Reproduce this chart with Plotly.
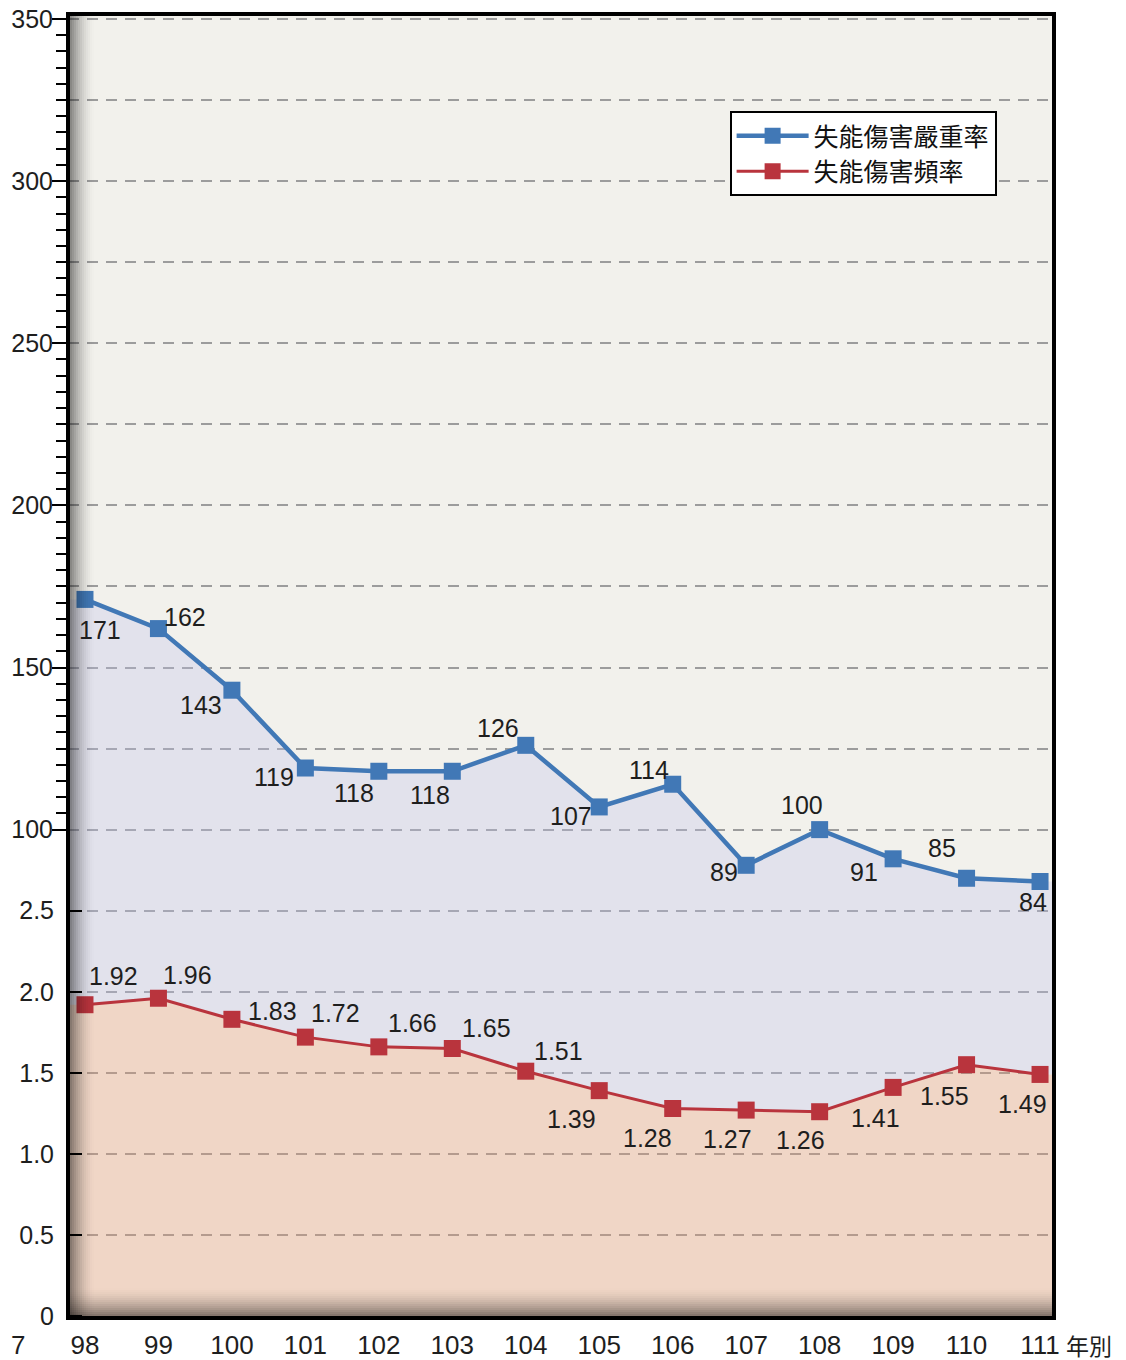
import plotly.graph_objects as go

# ---------------- data ----------------
years = list(range(98, 112))
year_labels = [str(y) for y in years]
severity = [171, 162, 143, 119, 118, 118, 126, 107, 114, 89, 100, 91, 85, 84]          # 失能傷害嚴重率
frequency = [1.92, 1.96, 1.83, 1.72, 1.66, 1.65, 1.51, 1.39, 1.28, 1.27, 1.26, 1.41, 1.55, 1.49]  # 失能傷害頻率
top_ticks = [100, 150, 200, 250, 300, 350]
bottom_ticks = [0, 0.5, 1.0, 1.5, 2.0, 2.5]
name_sev = "失能傷害嚴重率"
name_freq = "失能傷害頻率"
x_title = "年別"

# ---------------- broken-axis scale ----------------
# lower part: 0..2.5 (0.5 per unit); upper part: 75..350 (25 per unit), 75 <-> 2.5
def u_top(v):
    return v / 25.0 + 2.0

def u_bot(v):
    return v * 2.0

sev_u = [u_top(v) for v in severity]
freq_u = [u_bot(v) for v in frequency]

# label offsets (px) relative to the markers
sev_dx = [15, 27, -31, -31, -25, -22, -28, -28, -24, -22, -18, -29, -25, -7]
sev_dy = [-31, 12, -15, -9, -22, -24, 17, -9, 14, -7, 25, -13, 30, -20]
freq_dx = [29, 29, 41, 30, 34, 34, 33, -28, -25, -19, -19, -18, -22, -18]
freq_dy = [29, 23, 8, 24, 24, 20, 20, -28, -30, -29, -28, -31, -31, -30]

BLUE = "#4178b6"
RED = "#b9343d"
BG = "#f2f1ec"
GRID = "#9c9c9c"
TXT = "#1e1e1e"
NUMFONT = "Liberation Sans, Arial, sans-serif"
CJKFONT = "Noto Sans CJK TC, Noto Sans CJK SC, sans-serif"

YR = [-0.0247, 16.0617]
XR = [97.769, 111.19]

# area fills reach the plot edges (value held flat beyond the first/last year)
fill_x = [XR[0]] + years + [XR[1]]
fill_sev = [sev_u[0]] + sev_u + [sev_u[-1]]
fill_freq = [freq_u[0]] + freq_u + [freq_u[-1]]

fig = go.Figure()

# fills (semi-transparent so the dashed grid shows through)
fig.add_trace(go.Scatter(x=fill_x, y=fill_freq, mode="lines", line=dict(width=0, color=RED),
                         fill="tozeroy", fillcolor="rgba(235,151,109,0.30)",
                         showlegend=False, hoverinfo="skip", yaxis="y"))
fig.add_trace(go.Scatter(x=fill_x, y=fill_sev, mode="lines", line=dict(width=0, color=BLUE),
                         fill="tonexty", fillcolor="rgba(189,191,236,0.30)",
                         showlegend=False, hoverinfo="skip", yaxis="y"))

# lines + markers
fig.add_trace(go.Scatter(x=years, y=sev_u, mode="lines+markers", name=name_sev,
                         line=dict(color=BLUE, width=4.5),
                         marker=dict(symbol="square", size=17, color=BLUE),
                         customdata=severity, hovertemplate="%{customdata}<extra></extra>",
                         yaxis="y3"))
fig.add_trace(go.Scatter(x=years, y=freq_u, mode="lines+markers", name=name_freq,
                         line=dict(color=RED, width=3),
                         marker=dict(symbol="square", size=17, color=RED),
                         customdata=frequency, hovertemplate="%{customdata}<extra></extra>",
                         yaxis="y2"))

annotations = []
for x, u, v, dx, dy in zip(years, sev_u, severity, sev_dx, sev_dy):
    annotations.append(dict(x=x, y=u, xref="x", yref="y", text=str(v), showarrow=False,
                            xshift=dx, yshift=dy, font=dict(family=NUMFONT, size=25, color=TXT)))
for x, u, v, dx, dy in zip(years, freq_u, frequency, freq_dx, freq_dy):
    annotations.append(dict(x=x, y=u, xref="x", yref="y", text=f"{v:.2f}", showarrow=False,
                            xshift=dx, yshift=dy, font=dict(family=NUMFONT, size=25, color=TXT)))
annotations.append(dict(x=1.0355, y=-0.0207, xref="paper", yref="paper", text=x_title,
                        showarrow=False, xanchor="center", yanchor="middle",
                        font=dict(family=CJKFONT, size=23, color=TXT)))
annotations.append(dict(x=-0.0507, y=-0.0207, xref="paper", yref="paper", text="7",
                        showarrow=False, xanchor="center", yanchor="middle",
                        font=dict(family=NUMFONT, size=26, color=TXT)))

# shadows along left and bottom edges + black frame
shapes = []
PW, PH = 986.0, 1304.0
n = 13
for i in range(n):
    t = i / n
    op = 0.5 * (1 - t) ** 1.7
    shapes.append(dict(type="rect", xref="paper", yref="paper",
                       x0=i * 2 / PW, x1=(i + 1) * 2 / PW, y0=0, y1=1,
                       fillcolor="black", opacity=op, line=dict(width=0), layer="above"))
nb = 15
for i in range(nb):
    t = i / nb
    op = 0.5 * (1 - t) ** 1.7
    shapes.append(dict(type="rect", xref="paper", yref="paper",
                       x0=0, x1=1, y0=i * 2 / PH, y1=(i + 1) * 2 / PH,
                       fillcolor="black", opacity=op, line=dict(width=0), layer="above"))
shapes.append(dict(type="rect", xref="paper", yref="paper", x0=0, x1=1, y0=0, y1=1,
                   line=dict(color="black", width=4), fillcolor="rgba(0,0,0,0)", layer="above"))

top_u = [u_top(v) for v in top_ticks]
bot_u = [u_bot(v) for v in bottom_ticks]
minor_u = [6 + 0.2 * k for k in range(1, 50) if (k % 10) != 0]
grid_u = list(range(1, 17))

# page body adds an 8px margin, so the figure is 8px smaller and shifted margins
fig.update_layout(
    width=1118, height=1352,
    margin=dict(l=60, r=72, t=6, b=42, autoexpand=False),
    paper_bgcolor="white", plot_bgcolor=BG,
    showlegend=True,
    legend=dict(x=0.671, y=0.9256, xanchor="left", yanchor="top", traceorder="normal",
                bgcolor="white", bordercolor="black", borderwidth=2,
                font=dict(family=CJKFONT, size=25, color="#111"),
                itemwidth=72, tracegroupgap=0),
    xaxis=dict(range=XR, tickvals=years, ticktext=year_labels, ticks="",
               showgrid=False, zeroline=False, showline=False, automargin=False,
               tickfont=dict(family=NUMFONT, size=26, color=TXT), ticklabelstandoff=9,
               ticklabeloverflow="allow"),
    yaxis=dict(range=YR, tickvals=top_u, ticktext=[str(v) for v in top_ticks],
               ticks="outside", ticklen=15, tickwidth=2, tickcolor="black",
               showgrid=False, zeroline=False, showline=False, automargin=False,
               tickfont=dict(family=NUMFONT, size=25, color=TXT), ticklabelstandoff=-6,
               ticklabeloverflow="allow",
               minor=dict(tickvals=minor_u, ticks="outside", ticklen=11, tickwidth=2,
                          tickcolor="black", showgrid=False)),
    yaxis2=dict(range=YR, overlaying="y", side="left", anchor="x",
                tickvals=bot_u, ticktext=["0" if v == 0 else f"{v:.1f}" for v in bottom_ticks],
                ticks="inside", ticklen=14, tickwidth=2, tickcolor="black",
                showgrid=False, zeroline=False, showline=False, automargin=False,
                tickfont=dict(family=NUMFONT, size=25, color=TXT), ticklabelstandoff=13,
                ticklabeloverflow="allow"),
    yaxis3=dict(range=YR, overlaying="y", side="left", anchor="x",
                tickvals=grid_u, showticklabels=False, ticks="",
                showgrid=True, gridcolor=GRID, gridwidth=2, griddash="11px,8px",
                zeroline=False, showline=False, automargin=False),
    annotations=annotations,
    shapes=shapes,
)

fig.write_html("out.html")
